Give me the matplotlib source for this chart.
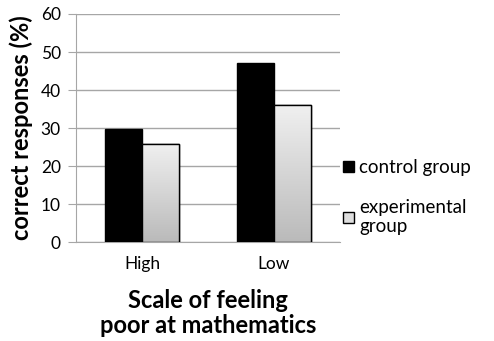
import matplotlib.pyplot as plt
import numpy as np
from matplotlib.colors import LinearSegmentedColormap
from matplotlib.patches import Patch

plt.rcParams['font.family'] = ['Lato', 'DejaVu Sans']

categories = ['High', 'Low']
control = [29.7, 47.1]
experimental = [25.8, 36.0]
series_names = ['control group', 'experimental\ngroup']

fig = plt.figure(figsize=(4.94, 3.41), dpi=100)
ax = fig.add_axes([0.154, 0.29, 0.534, 0.669])

x = np.arange(len(categories))
w = 0.28

ax.bar(x - w / 2, control, w, color='black', edgecolor='black', lw=1, zorder=3)
b2 = ax.bar(x + w / 2, experimental, w, color='#dcdcdc', edgecolor='black', lw=1, zorder=3)

# vertical gray gradient inside the experimental bars
grad = np.linspace(0, 1, 256).reshape(-1, 1)
cmap = LinearSegmentedColormap.from_list('g', ['#bababa', '#f0f0f0'])
for r in b2:
    x0, y0 = r.get_x(), r.get_y()
    im = ax.imshow(grad, cmap=cmap, origin='lower', aspect='auto',
                   extent=[x0, x0 + r.get_width(), y0, y0 + r.get_height()], zorder=3.5)
    im.set_clip_path(r)
    ax.add_patch(plt.Rectangle((x0, y0), r.get_width(), r.get_height(), fill=False,
                               edgecolor='black', lw=1, zorder=4))

ax.set_xlim(-0.5, 1.5)
ax.set_ylim(0, 60)
ax.set_yticks(range(0, 61, 10))
ax.set_xticks(x)
ax.set_xticklabels(categories)
ax.yaxis.grid(True, color='#a6a6a6', lw=1)
ax.set_axisbelow(True)
for s in ['top', 'right']:
    ax.spines[s].set_visible(False)
ax.spines['left'].set_color('#a6a6a6')
ax.spines['bottom'].set_color('#a6a6a6')
ax.tick_params(axis='y', length=6, color='#a6a6a6', labelsize=12.5, pad=5)
ax.tick_params(axis='x', length=0, labelsize=12.5, pad=10)

ax.set_ylabel('correct responses (%)', fontsize=17, fontweight='bold')
ax.yaxis.set_label_coords(-0.165, 0.5)
ax.set_xlabel('Scale of feeling\npoor at mathematics', fontsize=17, fontweight='bold',
              labelpad=12, linespacing=1.1)

handles = [Patch(facecolor='black', edgecolor='black'),
           Patch(facecolor='#dedede', edgecolor='black')]
fig.legend(handles, series_names, loc='upper left', bbox_to_anchor=(0.661, 0.583),
           frameon=False, fontsize=13.5, handlelength=0.55, handleheight=0.55,
           handletextpad=0.3, labelspacing=1.2)

fig.savefig('out.png', dpi=100)
